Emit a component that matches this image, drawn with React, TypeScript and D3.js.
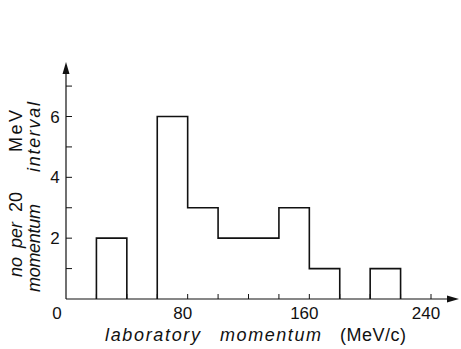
import React from "react";
import * as d3 from "d3";

const binStarts = [20, 60, 80, 100, 120, 140, 160, 200];
const counts = [2, 6, 3, 2, 2, 3, 1, 1];
const binWidth = 20;
const xTickLabels = [0, 80, 160, 240];
const yTickLabels = [2, 4, 6];
const xMinorTicks = [20, 40, 60, 80, 100, 120, 140, 160, 180, 200, 220, 240];
const yMinorTicks = [1, 2, 3, 4, 5, 6, 7];

export default function App() {
  const W = 461, H = 349;
  const x = d3.scaleLinear().domain([0, 240]).range([66, 431]);
  const y = d3.scaleLinear().domain([0, 6]).range([299, 116.5]);

  const groups: { s: number; c: number }[][] = [];
  binStarts.forEach((s, i) => {
    const last = groups[groups.length - 1];
    if (last && last[last.length - 1].s + binWidth === s) last.push({ s, c: counts[i] });
    else groups.push([{ s, c: counts[i] }]);
  });
  const paths = groups.map((g) => {
    const p = d3.path();
    p.moveTo(x(g[0].s), y(0));
    g.forEach((b) => {
      p.lineTo(x(b.s), y(b.c));
      p.lineTo(x(b.s + binWidth), y(b.c));
    });
    p.lineTo(x(g[g.length - 1].s + binWidth), y(0));
    return p.toString();
  });

  const font = "'Liberation Sans', Arial, sans-serif";
  const rot = (px: number, py: number) => `translate(${px},${py}) rotate(-90)`;
  return (
    <svg width={W} height={H} style={{ position: "absolute", left: 0, top: 0, background: "#fff" }}>
      <g stroke="#111" fill="none">
        <line x1={x(0)} y1={y(0)} x2={452} y2={y(0)} strokeWidth={1.2} />
        <line x1={x(0)} y1={y(0)} x2={x(0)} y2={70} strokeWidth={1.2} />
        {xMinorTicks.map((t) => (
          <line key={"xt" + t} x1={x(t)} x2={x(t)} y1={y(0)} y2={y(0) - 5} strokeWidth={1} />
        ))}
        {yMinorTicks.map((t) => (
          <line key={"yt" + t} x1={x(0)} x2={x(0) + 6} y1={y(t)} y2={y(t)} strokeWidth={1} />
        ))}
        {paths.map((d, i) => (
          <path key={"p" + i} d={d} strokeWidth={1.6} strokeLinejoin="miter" />
        ))}
      </g>
      <path d={`M${x(0)},62 L${x(0) - 3.5},74 L${x(0) + 3.5},74 Z`} fill="#111" />
      <path d={`M459,${y(0)} L447,${y(0) - 3.5} L447,${y(0) + 3.5} Z`} fill="#111" />
      <g fontFamily={font} fontSize={17} fill="#111">
        {xTickLabels.map((t) => (
          <text key={"xl" + t} x={t === 0 ? x(t) - 9 : x(t) - 5} y={319} textAnchor="middle">
            {t}
          </text>
        ))}
        {yTickLabels.map((t) => (
          <text key={"yl" + t} x={55} y={y(t) + 6} textAnchor="middle">
            {t}
          </text>
        ))}
      </g>
      <g fontFamily={font} fontSize={18} fill="#111">
        <text x={105} y={341} fontStyle="italic" textLength={95} lengthAdjust="spacing">laboratory</text>
        <text x={220} y={341} fontStyle="italic" textLength={101} lengthAdjust="spacing">momentum</text>
        <text x={340} y={341} textLength={66} lengthAdjust="spacing">(MeV/c)</text>
      </g>
      <g fontFamily={font} fontSize={18} fill="#111">
        <text transform={rot(22, 277)} fontStyle="italic">no</text>
        <text transform={rot(22, 248)} fontStyle="italic">per</text>
        <text transform={rot(22, 212)}>20</text>
        <text transform={rot(22, 152)} textLength={42} lengthAdjust="spacing">MeV</text>
        <text transform={rot(40, 292)} fontStyle="italic" textLength={88} lengthAdjust="spacing">momentum</text>
        <text transform={rot(40, 172)} fontStyle="italic" textLength={70} lengthAdjust="spacing">interval</text>
      </g>
    </svg>
  );
}
